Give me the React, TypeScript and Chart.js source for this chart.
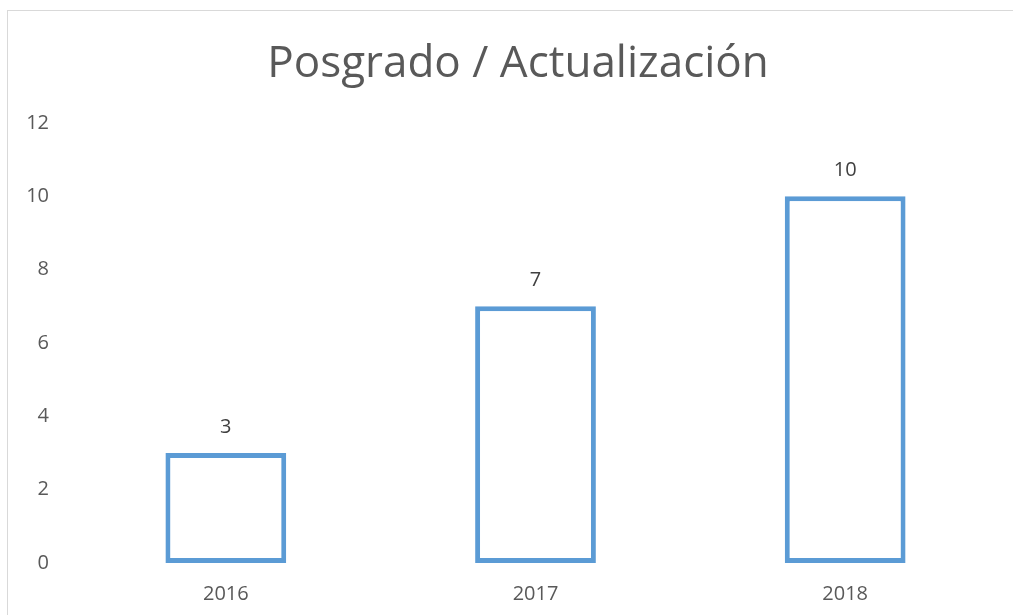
import React, { useEffect, useRef } from "react";
import { Chart, registerables } from "chart.js";

Chart.register(...registerables);

const categories = ["2016", "2017", "2018"];
const values = [3, 7, 10];
const titleText = "Posgrado / Actualización";
const yMin = 0;
const yMax = 12;
const yStep = 2;

const FONT = "'Open Sans', 'DejaVu Sans', sans-serif";

const frame = {
  id: "frame",
  beforeDraw(chart: any) {
    const ctx = chart.ctx;
    ctx.save();
    ctx.fillStyle = "#ffffff";
    ctx.fillRect(0, 0, chart.width, chart.height);
    ctx.strokeStyle = "#d9d9d9";
    ctx.lineWidth = 1;
    ctx.strokeRect(7.5, 10.5, 3000, 3000);
    ctx.font = `44px ${FONT}`;
    ctx.fillStyle = "#595959";
    ctx.textAlign = "center";
    ctx.textBaseline = "alphabetic";
    ctx.fillText(titleText, 518, 77);
    ctx.restore();
  },
};

const dataLabels = {
  id: "dataLabels",
  afterDatasetsDraw(chart: any) {
    const ctx = chart.ctx;
    const meta = chart.getDatasetMeta(0);
    const ds = chart.data.datasets[0];
    ctx.save();
    ctx.font = `20px ${FONT}`;
    ctx.fillStyle = "#404040";
    ctx.textAlign = "center";
    ctx.textBaseline = "middle";
    meta.data.forEach((el: any, i: number) => {
      ctx.fillText(String(ds.data[i]), el.x, el.y - 26);
    });
    ctx.restore();
  },
};

export default function App() {
  const ref = useRef<HTMLCanvasElement>(null);
  useEffect(() => {
    if (!ref.current) return;
    const chart = new Chart(ref.current, {
      type: "bar",
      data: {
        labels: categories,
        datasets: [
          {
            data: values,
            backgroundColor: "#ffffff",
            borderColor: "#5B9BD5",
            borderWidth: 5,
            borderSkipped: false,
            categoryPercentage: 1,
            barPercentage: 0.39,
          },
        ],
      },
      options: {
        responsive: false,
        animation: false,
        devicePixelRatio: 1,
        layout: { padding: { top: 123, left: 0, right: 13, bottom: 0 } },
        plugins: {
          legend: { display: false },
          tooltip: { enabled: false },
          title: { display: false },
        },
        scales: {
          x: {
            grid: { display: false, drawTicks: false },
            border: { display: false },
            ticks: {
              color: "#595959",
              font: { family: FONT, size: 20 },
              padding: 19,
            },
            afterFit(scale: any) {
              scale.height = 52;
            },
          },
          y: {
            min: yMin,
            max: yMax,
            grid: { display: false, drawTicks: false },
            border: { display: false },
            ticks: {
              stepSize: yStep,
              color: "#595959",
              font: { family: FONT, size: 20 },
              padding: 22,
            },
            afterFit(scale: any) {
              scale.width = 71;
            },
          },
        },
      },
      plugins: [frame, dataLabels],
    });
    return () => chart.destroy();
  }, []);
  return (
    <div style={{ position: "absolute", left: 0, top: 0, width: 1013, height: 615 }}>
      <canvas ref={ref} width={1013} height={615} />
    </div>
  );
}
